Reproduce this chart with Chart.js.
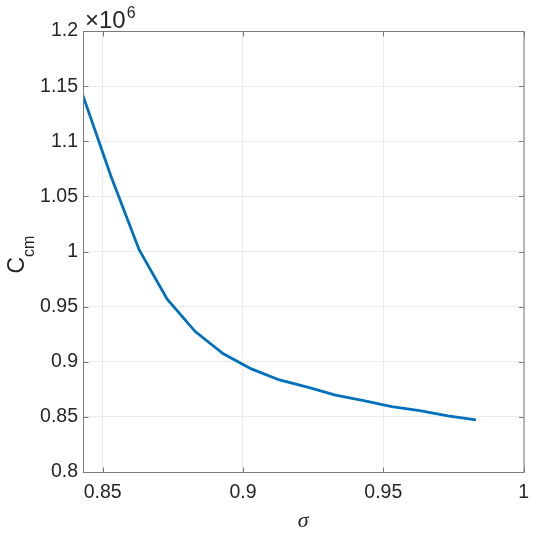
<!DOCTYPE html>
<html>
<head>
<meta charset="utf-8">
<script src="https://cdn.jsdelivr.net/npm/chart.js@4"></script>
<style>
  html, body { margin: 0; padding: 0; background: #fff; }
  canvas { display: block; }
</style>
</head>
<body>
<canvas id="ccmChart" width="538" height="535"></canvas>
<script>
// sigma values along the x axis
const sigma = [0.843, 0.853, 0.863, 0.873, 0.883, 0.893, 0.903, 0.913, 0.923, 0.933, 0.943, 0.953, 0.963, 0.973, 0.983];
// C_cm in units of 1e6
const ccm = [1.1414, 1.068, 1.0016, 0.9568, 0.9274, 0.9072, 0.8935, 0.8835, 0.8769, 0.8697, 0.8647, 0.8593, 0.8557, 0.8509, 0.8472];

const xTicks = [0.85, 0.9, 0.95, 1];
const yTicks = [0.8, 0.85, 0.9, 0.95, 1, 1.05, 1.1, 1.15, 1.2];
const xRange = [0.843, 1];
const yRange = [0.8, 1.2];
const yExponent = '6';

const textColor = '#262626';
const axisColor = '#7a7a7a';
const gridColor = '#ebebeb';
const lineColor = '#0072bd';
const fontFamily = '"Liberation Sans", Arial, Helvetica, sans-serif';

const fmt = v => String(parseFloat(v.toFixed(4)));

// box, inward tick marks, exponent and y label (MATLAB look)
const axesBox = {
    id: 'axesBox',
    afterDatasetsDraw(chart) {
        const { ctx, chartArea: a, scales: { x, y } } = chart;
        const tl = 4.5;
        ctx.save();
        ctx.strokeStyle = axisColor;
        ctx.lineWidth = 1;
        ctx.strokeRect(a.left + 0.5, a.top + 0.5, a.right - a.left, a.bottom - a.top);
        ctx.beginPath();
        xTicks.forEach(v => {
            const px = Math.round(x.getPixelForValue(v)) + 0.5;
            ctx.moveTo(px, a.bottom);
            ctx.lineTo(px, a.bottom - tl);
            ctx.moveTo(px, a.top + 1);
            ctx.lineTo(px, a.top + 1 + tl);
        });
        yTicks.forEach(v => {
            const py = Math.round(y.getPixelForValue(v)) + 0.5;
            ctx.moveTo(a.left + 1, py);
            ctx.lineTo(a.left + 1 + tl, py);
            ctx.moveTo(a.right, py);
            ctx.lineTo(a.right - tl, py);
        });
        ctx.stroke();

        ctx.fillStyle = textColor;
        ctx.textAlign = 'left';
        ctx.textBaseline = 'alphabetic';
        ctx.font = '24px ' + fontFamily;
        ctx.fillText('\u00d710', a.left + 2, a.top - 3);
        const w = ctx.measureText('\u00d710').width;
        ctx.font = '16px ' + fontFamily;
        ctx.fillText(yExponent, a.left + 2 + w + 1, a.top - 13);

        const cy = (a.top + a.bottom) / 2;
        ctx.translate(23.5, cy + 22);
        ctx.rotate(-Math.PI / 2);
        ctx.font = '23px ' + fontFamily;
        ctx.fillText('C', 0, 0);
        const cw = ctx.measureText('C').width;
        ctx.font = '16px ' + fontFamily;
        ctx.fillText('cm', cw, 10);
        ctx.restore();
    }
};

const ctx = document.getElementById('ccmChart').getContext('2d');

const ccmChart = new Chart(ctx, {
    type: 'scatter',
    data: {
        datasets: [{
            data: sigma.map((s, i) => ({ x: s, y: ccm[i] })),
            showLine: true,
            borderColor: lineColor,
            borderWidth: 2.8,
            pointRadius: 0,
            tension: 0,
            fill: false
        }]
    },
    options: {
        responsive: false,
        animation: false,
        layout: { padding: { left: 0, right: 14, top: 31, bottom: 0 } },
        plugins: {
            legend: { display: false },
            tooltip: { enabled: false }
        },
        scales: {
            x: {
                type: 'linear',
                min: xRange[0],
                max: xRange[1],
                afterBuildTicks: s => { s.ticks = xTicks.map(v => ({ value: v })); },
                afterFit: s => { s.height = 63; },
                border: { display: false },
                grid: { color: gridColor, drawTicks: false, lineWidth: 1 },
                ticks: {
                    color: textColor,
                    font: { family: fontFamily, size: 19.5 },
                    padding: 9,
                    autoSkip: false,
                    maxRotation: 0,
                    callback: v => fmt(v)
                },
                title: {
                    display: true,
                    text: '\u03c3',
                    color: textColor,
                    font: { family: '"Liberation Serif", "Times New Roman", serif', size: 22, style: 'italic' },
                    padding: { top: 0, bottom: 1 }
                }
            },
            y: {
                type: 'linear',
                min: yRange[0],
                max: yRange[1],
                afterBuildTicks: s => { s.ticks = yTicks.map(v => ({ value: v })); },
                afterFit: s => { s.width = 83; },
                border: { display: false },
                grid: { color: gridColor, drawTicks: false, lineWidth: 1 },
                ticks: {
                    color: textColor,
                    font: { family: fontFamily, size: 19.5 },
                    padding: 5,
                    callback: v => fmt(v)
                }
            }
        }
    },
    plugins: [axesBox]
});
</script>
</body>
</html>
